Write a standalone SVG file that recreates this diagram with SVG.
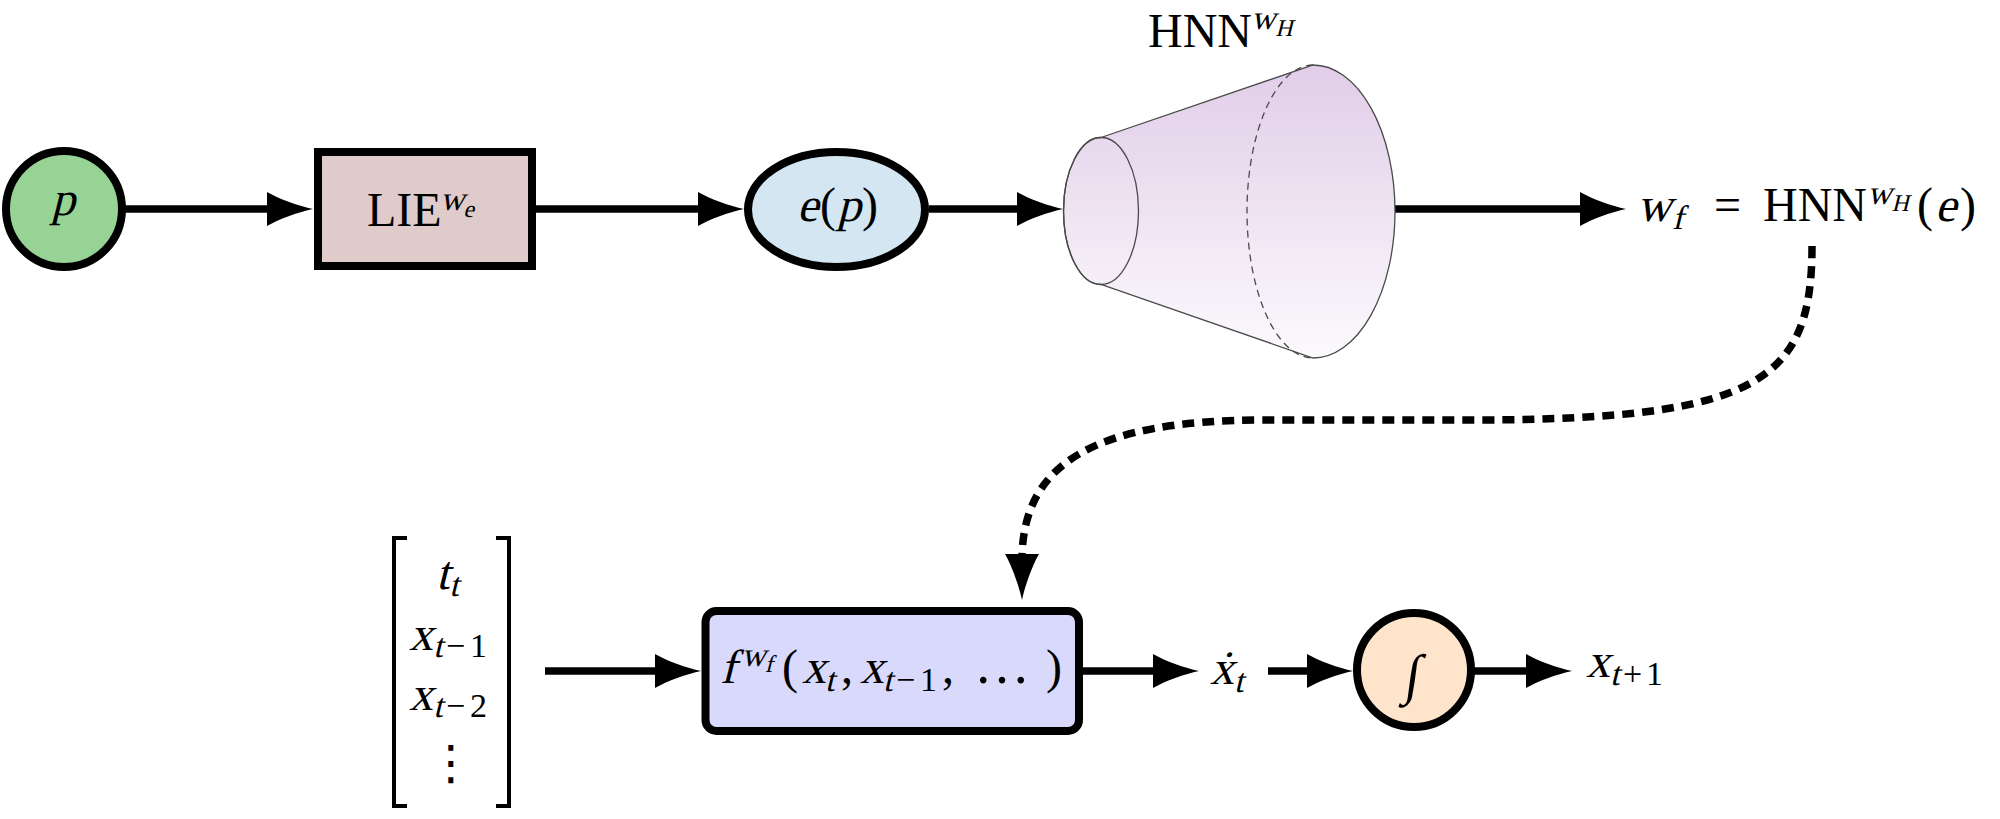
<svg xmlns="http://www.w3.org/2000/svg" width="2000" height="819" viewBox="0 0 2000 819">
<style>
.t{font-family:'Liberation Serif','DejaVu Serif',serif;fill:#000}
.m{font-size:48px}
.s{font-size:34px}
.ss{font-size:24px}
.node{stroke:#000;stroke-width:8}
.ln{fill:none;stroke:#000;stroke-width:7.5}
.cone{stroke:#4a4a4a;stroke-width:1.3}
</style>
<defs>
<marker id="ah" markerUnits="userSpaceOnUse" markerWidth="48" markerHeight="36" viewBox="-47 -18 48 36" refX="-40" refY="0" orient="auto">
<path d="M0,0 C-14,-3 -34,-10 -46,-17 L-46,17 C-34,10 -14,3 0,0 Z" fill="#000"/>
</marker>
<linearGradient id="cg" x1="0" y1="0" x2="0" y2="1">
<stop offset="0" stop-color="#e1cde8"/>
<stop offset="1" stop-color="#fcfafd"/>
</linearGradient>
</defs>

<g id="connectors">
<path class="ln" d="M125,209 H273" marker-end="url(#ah)"/>
<path class="ln" d="M536,209 H704" marker-end="url(#ah)"/>
<path class="ln" d="M929,209 H1023" marker-end="url(#ah)"/>
<path class="ln" d="M1395,209 H1586" marker-end="url(#ah)"/>
<path class="ln" d="M545,671 H661" marker-end="url(#ah)"/>
<path class="ln" d="M1083,671 H1159" marker-end="url(#ah)"/>
<path class="ln" d="M1268,671 H1313" marker-end="url(#ah)"/>
<path class="ln" d="M1474,671 H1532" marker-end="url(#ah)"/>
<path class="ln" d="M1812,246 C1812,380 1760,419 1480,420 L1260,420 C1100,421 1022,460 1022,560" stroke-dasharray="12 8" marker-end="url(#ah)"/>
</g>

<g id="node-p">
<circle class="node" cx="64" cy="209" r="58" fill="#97d395"/>
<text class="t m" transform="translate(0,215) skewX(-14) translate(0,-215)" x="63" y="215" text-anchor="middle">p</text>
</g>

<g id="node-lie">
<rect class="node" x="318" y="152" width="214" height="114" fill="#dfcbca"/>
<text class="t m" x="367" y="226">LIE</text>
<text class="t" transform="translate(0,210) skewX(-14) translate(0,-210)"><tspan class="s" x="440" y="210">w</tspan><tspan class="ss" x="465" y="217">e</tspan></text>
</g>

<g id="node-ep">
<ellipse class="node" cx="836.5" cy="209.5" rx="88.5" ry="57.5" fill="#d4e6f2"/>
<text class="t m"><tspan x="820" y="221">(</tspan><tspan x="862" y="221">)</tspan></text>
<text class="t m" transform="translate(0,221) skewX(-14) translate(0,-221)"><tspan x="797" y="221">e</tspan><tspan x="837" y="221">p</tspan></text>
</g>

<g id="node-hnn">
<path d="M1101,137.5 L1313,65 A82,146.5 0 0 1 1313,358 L1101,284.5 A37.5,73.5 0 0 1 1101,137.5 Z" fill="url(#cg)" class="cone"/>
<ellipse cx="1101" cy="211" rx="37.5" ry="73.5" fill="none" class="cone"/>
<path d="M1313,65 A66,146.5 0 0 0 1313,358" fill="none" class="cone" stroke-dasharray="7 5"/>
<text class="t m" x="1148" y="47">HNN</text>
<text class="t" transform="translate(0,29) skewX(-14) translate(0,-29)"><tspan class="s" x="1251" y="29">w</tspan><tspan class="ss" x="1277" y="36">H</tspan></text>
</g>

<g id="node-wf">
<text class="t m"><tspan x="1714" y="221">=</tspan><tspan x="1763" y="221">HNN</tspan><tspan x="1917" y="221">(</tspan><tspan x="1960" y="221">)</tspan></text>
<text class="t" transform="translate(0,221) skewX(-14) translate(0,-221)"><tspan class="m" x="1637" y="221">w</tspan><tspan class="s" x="1674" y="229">f</tspan><tspan class="s" x="1863" y="204">w</tspan><tspan class="ss" x="1889" y="211">H</tspan><tspan class="m" x="1935" y="221">e</tspan></text>
</g>

<g id="node-vector">
<path d="M407,538 H394 V806 H407 M496,538 H509 V806 H496" fill="none" stroke="#000" stroke-width="4"/>
<text class="t" transform="translate(0,589) skewX(-14) translate(0,-589)"><tspan class="m" x="436" y="589">t</tspan><tspan class="s" x="451" y="596">t</tspan></text>
<text class="t" transform="translate(0,650) skewX(-14) translate(0,-650)"><tspan class="m" x="409" y="650">x</tspan><tspan class="s" x="435" y="657">t</tspan></text>
<text class="t s"><tspan x="446" y="657">−</tspan><tspan x="470" y="657">1</tspan></text>
<text class="t" transform="translate(0,710) skewX(-14) translate(0,-710)"><tspan class="m" x="409" y="710">x</tspan><tspan class="s" x="435" y="717">t</tspan></text>
<text class="t s"><tspan x="446" y="717">−</tspan><tspan x="470" y="717">2</tspan></text>
<text x="451" y="779" text-anchor="middle" style="font-family:'DejaVu Sans',sans-serif;font-size:48px">⋮</text>
</g>

<g id="node-f">
<rect class="node" x="705.5" y="611" width="373.5" height="120" rx="11" fill="#d9d9fc"/>
<text class="t" transform="translate(0,683) skewX(-14) translate(0,-683)"><tspan class="m" x="720" y="683">f</tspan><tspan class="s" x="737" y="666">w</tspan><tspan class="ss" x="762" y="672">f</tspan><tspan class="m" x="802" y="683">x</tspan><tspan class="s" x="827" y="691">t</tspan><tspan class="m" x="860" y="683">x</tspan><tspan class="s" x="885" y="691">t</tspan></text>
<text class="t m"><tspan x="782" y="683">(</tspan><tspan x="841" y="683">,</tspan><tspan class="s" x="896" y="691">−</tspan><tspan class="s" x="920" y="691">1</tspan><tspan x="942" y="683">,</tspan><tspan x="974" y="683" style="font-size:56px">…</tspan><tspan x="1046" y="683">)</tspan></text>
</g>

<g id="node-xdot">
<text class="t" transform="translate(0,684) skewX(-14) translate(0,-684)"><tspan class="m" x="1210" y="684">x&#x307;</tspan><tspan class="s" x="1236" y="692">t</tspan></text>
</g>

<g id="node-int">
<circle class="node" cx="1414" cy="670" r="57" fill="#fde4cb"/>
<text class="t" transform="translate(0,670) skewX(-8) translate(0,-670)" x="1414" y="693" text-anchor="middle" style="font-size:55px">∫</text>
</g>

<g id="node-xnext">
<text class="t" transform="translate(0,677) skewX(-14) translate(0,-677)"><tspan class="m" x="1586" y="677">x</tspan><tspan class="s" x="1612" y="685">t</tspan></text>
<text class="t s"><tspan x="1623" y="685">+</tspan><tspan x="1646" y="685">1</tspan></text>
</g>
</svg>
